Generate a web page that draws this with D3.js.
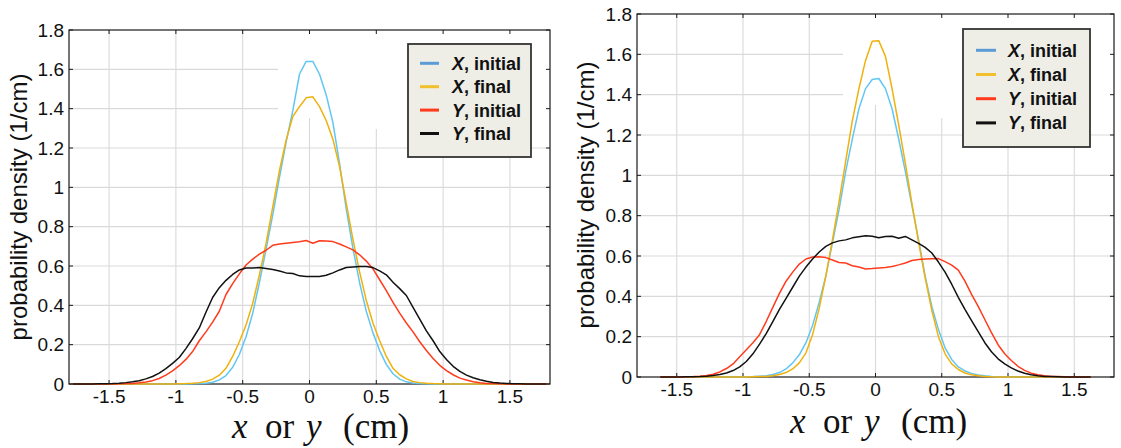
<!DOCTYPE html>
<html>
<head>
<meta charset="utf-8">
<script src="https://cdn.jsdelivr.net/npm/d3@7"></script>
<style>
  html, body { margin: 0; padding: 0; background: #fff; }
  svg { display: block; }
  text { font-family: "Liberation Sans", Arial, Helvetica, sans-serif; fill: #111; }
  text.serif, text.serif tspan { font-family: "Liberation Serif", "Times New Roman", serif; }
</style>
</head>
<body>
<svg id="chart" width="1121" height="448"></svg>
<script>
// ---- axis ticks ----
const xTickValues = [-1.5, -1, -0.5, 0, 0.5, 1, 1.5];
const yTickValues = [0, 0.2, 0.4, 0.6, 0.8, 1, 1.2, 1.4, 1.6, 1.8];

// ---- legend entries (italic symbol + rest of label) ----
const seriesSymbols = ["X", "X", "Y", "Y"];
const seriesLabels = [", initial", ", final", ", initial", ", final"];

// ---- histogram bin centres (cm) ----
const binsLeft = [
  -1.775, -1.725, -1.675, -1.625, -1.575, -1.525, -1.475, -1.425, -1.375, -1.325,
  -1.275, -1.225, -1.175, -1.125, -1.075, -1.025, -0.975, -0.925, -0.875, -0.825,
  -0.775, -0.725, -0.675, -0.625, -0.575, -0.525, -0.475, -0.425, -0.375, -0.325,
  -0.275, -0.225, -0.175, -0.125, -0.075, -0.025, 0.025, 0.075, 0.125, 0.175,
  0.225, 0.275, 0.325, 0.375, 0.425, 0.475, 0.525, 0.575, 0.625, 0.675,
  0.725, 0.775, 0.825, 0.875, 0.925, 0.975, 1.025, 1.075, 1.125, 1.175,
  1.225, 1.275, 1.325, 1.375, 1.425, 1.475, 1.525, 1.575, 1.625, 1.675,
  1.725, 1.775
];
const binsRight = [
  -1.625, -1.575, -1.525, -1.475, -1.425, -1.375, -1.325, -1.275, -1.225, -1.175,
  -1.125, -1.075, -1.025, -0.975, -0.925, -0.875, -0.825, -0.775, -0.725, -0.675,
  -0.625, -0.575, -0.525, -0.475, -0.425, -0.375, -0.325, -0.275, -0.225, -0.175,
  -0.125, -0.075, -0.025, 0.025, 0.075, 0.125, 0.175, 0.225, 0.275, 0.325,
  0.375, 0.425, 0.475, 0.525, 0.575, 0.625, 0.675, 0.725, 0.775, 0.825,
  0.875, 0.925, 0.975, 1.025, 1.075, 1.125, 1.175, 1.225, 1.275, 1.325,
  1.375, 1.425, 1.475, 1.525, 1.575, 1.625
];

// ---- densities (1/cm), left panel ----
const leftXInitial = [
  0, 0, 0, 0, 0, 0, 0, 0, 0, 0, 0, 0, 0, 0, 0, 0, 0, 0,
  0.001, 0.002, 0.004, 0.009, 0.021, 0.043, 0.085, 0.15, 0.24, 0.36,
  0.515, 0.685, 0.86, 1.05, 1.23, 1.39, 1.575, 1.64, 1.64, 1.575,
  1.47, 1.33, 1.12, 0.89, 0.69, 0.515, 0.37, 0.26, 0.17, 0.10,
  0.052, 0.025, 0.011, 0.005, 0.002, 0.001,
  0, 0, 0, 0, 0, 0, 0, 0, 0, 0, 0, 0, 0, 0, 0, 0, 0, 0
];
const leftXFinal = [
  0, 0, 0, 0, 0, 0, 0, 0, 0, 0, 0, 0, 0, 0, 0, 0,
  0.001, 0.002, 0.004, 0.007, 0.013, 0.025, 0.045, 0.08, 0.14, 0.215,
  0.30, 0.41, 0.555, 0.715, 0.90, 1.085, 1.24, 1.36, 1.41, 1.455,
  1.46, 1.41, 1.34, 1.245, 1.105, 0.92, 0.735, 0.57, 0.425, 0.31,
  0.22, 0.14, 0.08, 0.047, 0.026, 0.013, 0.007, 0.004, 0.002, 0.001,
  0, 0, 0, 0, 0, 0, 0, 0, 0, 0, 0, 0, 0, 0, 0, 0
];
const leftYInitial = [
  0, 0, 0, 0, 0, 0, 0,
  0.001, 0.002, 0.003, 0.006, 0.01, 0.017, 0.028, 0.045, 0.067, 0.093,
  0.125, 0.165, 0.22, 0.265, 0.315, 0.37, 0.455, 0.51, 0.56, 0.605,
  0.635, 0.66, 0.68, 0.705, 0.712, 0.716, 0.72, 0.723, 0.73, 0.716,
  0.728, 0.727, 0.724, 0.712, 0.697, 0.682, 0.657, 0.625, 0.585, 0.53,
  0.475, 0.415, 0.36, 0.31, 0.265, 0.215, 0.17, 0.13, 0.095, 0.068,
  0.047, 0.03, 0.02, 0.011, 0.006, 0.003, 0.002, 0.001,
  0, 0, 0, 0, 0, 0, 0
];
const leftYFinal = [
  0, 0, 0, 0,
  0.001, 0.001, 0.002, 0.004, 0.007, 0.011, 0.017, 0.026, 0.038, 0.055,
  0.078, 0.105, 0.135, 0.18, 0.23, 0.285, 0.365, 0.44, 0.49, 0.527,
  0.557, 0.58, 0.59, 0.59, 0.592, 0.587, 0.582, 0.575, 0.565, 0.562,
  0.55, 0.547, 0.547, 0.547, 0.553, 0.565, 0.58, 0.592, 0.595, 0.598,
  0.598, 0.592, 0.575, 0.555, 0.517, 0.485, 0.45, 0.39, 0.33, 0.27,
  0.22, 0.165, 0.125, 0.09, 0.064, 0.045, 0.032, 0.022, 0.014, 0.008,
  0.005, 0.003, 0.001, 0.001,
  0, 0, 0, 0
];

// ---- densities (1/cm), right panel ----
const rightXInitial = [
  0, 0, 0, 0, 0, 0, 0, 0, 0, 0, 0, 0, 0,
  0.001, 0.002, 0.004, 0.006, 0.012, 0.022, 0.04, 0.07, 0.11, 0.17,
  0.255, 0.37, 0.5, 0.665, 0.83, 1.02, 1.18, 1.33, 1.43, 1.475,
  1.48, 1.43, 1.33, 1.18, 1.02, 0.85, 0.68, 0.50, 0.35, 0.235,
  0.145, 0.087, 0.05, 0.03, 0.018, 0.01, 0.006, 0.003, 0.001,
  0, 0, 0, 0, 0, 0, 0, 0, 0, 0, 0, 0, 0, 0
];
const rightXFinal = [
  0, 0, 0, 0, 0, 0, 0, 0, 0, 0, 0, 0, 0, 0,
  0.001, 0.002, 0.003, 0.006, 0.012, 0.022, 0.04, 0.07, 0.12, 0.21,
  0.34, 0.5, 0.68, 0.87, 1.07, 1.27, 1.43, 1.57, 1.665, 1.667,
  1.59, 1.43, 1.25, 1.06, 0.86, 0.67, 0.49, 0.33, 0.2, 0.115,
  0.065, 0.037, 0.02, 0.011, 0.006, 0.003, 0.001,
  0, 0, 0, 0, 0, 0, 0, 0, 0, 0, 0, 0, 0, 0, 0
];
const rightYInitial = [
  0, 0, 0,
  0.001, 0.001, 0.002, 0.004, 0.007, 0.014, 0.025, 0.042, 0.065, 0.1,
  0.135, 0.17, 0.21, 0.275, 0.345, 0.415, 0.475, 0.52, 0.56, 0.585,
  0.595, 0.596, 0.592, 0.58, 0.568, 0.565, 0.552, 0.545, 0.536, 0.538,
  0.541, 0.543, 0.548, 0.556, 0.565, 0.578, 0.583, 0.585, 0.586, 0.587,
  0.572, 0.555, 0.53, 0.475, 0.41, 0.35, 0.285, 0.22, 0.16, 0.115,
  0.082, 0.053, 0.033, 0.019, 0.011, 0.006, 0.003, 0.002, 0.001,
  0, 0, 0, 0
];
const rightYFinal = [
  0, 0, 0, 0,
  0.001, 0.001, 0.002, 0.004, 0.007, 0.012, 0.02, 0.032, 0.05, 0.077,
  0.115, 0.163, 0.215, 0.275, 0.335, 0.39, 0.445, 0.5, 0.545, 0.585,
  0.62, 0.648, 0.665, 0.675, 0.68, 0.69, 0.695, 0.70, 0.698, 0.69,
  0.697, 0.698, 0.688, 0.697, 0.68, 0.663, 0.643, 0.615, 0.57, 0.52,
  0.46, 0.395, 0.335, 0.28, 0.225, 0.17, 0.125, 0.09, 0.065, 0.045,
  0.03, 0.019, 0.011, 0.006, 0.003, 0.002, 0.001,
  0, 0, 0, 0, 0
];

// ---- colours: curve strokes and legend swatches ----
const curveColors  = ["#62c6f3", "#f0b10c", "#ff3b1d", "#111111"];
const swatchColors = ["#5b9bd8", "#f2c02c", "#ff3b1d", "#111111"];

// ---- panel layout ----
const panels = [
  {
    frame: { l: 69, r: 550, t: 30, b: 384 },
    bins: binsLeft,
    values: [leftXInitial, leftXFinal, leftYInitial, leftYFinal],
    legend: { l: 408, t: 44, w: 123, h: 113, row0: 63.3, dy: 23.4, sx: 420, sw: 19, tx: 452 },
    gridGaps: [ { x0: 278, y1: 118 }, { x0: 340, y1: 129 } ],
    yTitle: { x: 27, y: 207 },
    xTitle: { cx: 322, base: 438 }
  },
  {
    frame: { l: 637, r: 1114, t: 14, b: 377 },
    bins: binsRight,
    values: [rightXInitial, rightXFinal, rightYInitial, rightYFinal],
    legend: { l: 963, t: 29, w: 127, h: 118, row0: 50.3, dy: 24.2, sx: 976, sw: 20, tx: 1008 },
    gridGaps: [ { x0: 843, y1: 105 }, { x0: 900, y1: 118 } ],
    yTitle: { x: 594, y: 195 },
    xTitle: { cx: 880, base: 433 }
  }
];

const svg = d3.select("#chart");
const fmt = d => d3.format("~g")(d).replace("\u2212", "-");

panels.forEach((p, pi) => {
  const f = p.frame;
  const x = d3.scaleLinear().domain([-1.8, 1.8]).range([f.l, f.r]);
  const y = d3.scaleLinear().domain([0, 1.8]).range([f.b, f.t]);
  const g = svg.append("g");

  // grid
  const grid = g.append("g").attr("stroke", "#d9d9d9").attr("stroke-width", 1.1);
  grid.selectAll("line.v").data(xTickValues).join("line")
    .attr("x1", d => x(d)).attr("x2", d => x(d))
    .attr("y1", f.t).attr("y2", f.b);
  grid.selectAll("line.h").data(yTickValues.filter(v => v > 0 && v < 1.8)).join("line")
    .attr("x1", f.l).attr("x2", f.r)
    .attr("y1", d => y(d)).attr("y2", d => y(d));

  // blank area behind the legend in the upper middle of the plot
  p.gridGaps.forEach(gap => {
    g.append("rect")
      .attr("x", gap.x0).attr("y", f.t + 0.5)
      .attr("width", f.r - 0.5 - gap.x0).attr("height", gap.y1 - f.t - 0.5)
      .attr("fill", "#fff");
  });

  // frame
  g.append("rect")
    .attr("x", f.l).attr("y", f.t)
    .attr("width", f.r - f.l).attr("height", f.b - f.t)
    .attr("fill", "none").attr("stroke", "#1a1a1a").attr("stroke-width", 1.2);

  // inward ticks on all four sides
  const tl = 4;
  const ticks = g.append("g").attr("stroke", "#1a1a1a").attr("stroke-width", 1);
  xTickValues.forEach(v => {
    ticks.append("line").attr("x1", x(v)).attr("x2", x(v)).attr("y1", f.b).attr("y2", f.b - tl);
    ticks.append("line").attr("x1", x(v)).attr("x2", x(v)).attr("y1", f.t).attr("y2", f.t + tl);
  });
  yTickValues.forEach(v => {
    ticks.append("line").attr("x1", f.l).attr("x2", f.l + tl).attr("y1", y(v)).attr("y2", y(v));
    ticks.append("line").attr("x1", f.r).attr("x2", f.r - tl).attr("y1", y(v)).attr("y2", y(v));
  });

  // tick labels
  g.append("g").selectAll("text").data(xTickValues).join("text")
    .attr("x", d => x(d)).attr("y", f.b + 18.5)
    .attr("text-anchor", "middle").attr("font-size", 19)
    .text(fmt);
  g.append("g").selectAll("text").data(yTickValues).join("text")
    .attr("x", f.l - 5).attr("y", d => y(d) + 6.8)
    .attr("text-anchor", "end").attr("font-size", 19)
    .text(fmt);

  // curves
  const clipId = "clip" + pi;
  svg.append("clipPath").attr("id", clipId).append("rect")
    .attr("x", f.l).attr("y", f.t - 2).attr("width", f.r - f.l).attr("height", f.b - f.t + 4);
  const line = d3.line().x(d => x(d[0])).y(d => y(d[1]));
  const curves = g.append("g").attr("clip-path", `url(#${clipId})`);
  p.values.forEach((vals, si) => {
    curves.append("path")
      .datum(p.bins.map((b, i) => [b, vals[i]]))
      .attr("d", line)
      .attr("fill", "none")
      .attr("stroke", curveColors[si])
      .attr("stroke-width", 1.5)
      .attr("stroke-linejoin", "round");
  });

  // legend
  const L = p.legend;
  const lg = g.append("g");
  lg.append("rect")
    .attr("x", L.l).attr("y", L.t).attr("width", L.w).attr("height", L.h)
    .attr("fill", "#efeee6").attr("stroke", "#333").attr("stroke-width", 1.8);
  seriesSymbols.forEach((s, i) => {
    const ry = L.row0 + i * L.dy;
    lg.append("line")
      .attr("x1", L.sx).attr("x2", L.sx + L.sw).attr("y1", ry).attr("y2", ry)
      .attr("stroke", swatchColors[i]).attr("stroke-width", 3);
    const t = lg.append("text")
      .attr("x", L.tx).attr("y", ry + 6.5)
      .attr("font-size", 18).attr("font-weight", "bold");
    t.append("tspan").style("font-style", "italic").text(s);
    t.append("tspan").text(seriesLabels[i]);
  });

  // y axis title
  g.append("text")
    .attr("transform", `translate(${p.yTitle.x},${p.yTitle.y}) rotate(-90)`)
    .attr("text-anchor", "middle").attr("font-size", 24)
    .text("probability density (1/cm)");

  // x axis title: math-style italic variables with upright words
  const xt = g.append("text")
    .attr("class", "serif")
    .attr("y", p.xTitle.base)
    .attr("font-size", 35);
  const cx = p.xTitle.cx;
  xt.append("tspan").attr("x", cx - 90).style("font-style", "italic").text("x");
  xt.append("tspan").attr("x", cx - 57).text("or");
  xt.append("tspan").attr("x", cx - 16).style("font-style", "italic").text("y");
  xt.append("tspan").attr("x", cx + 21).text("(cm)");
});
</script>
</body>
</html>
